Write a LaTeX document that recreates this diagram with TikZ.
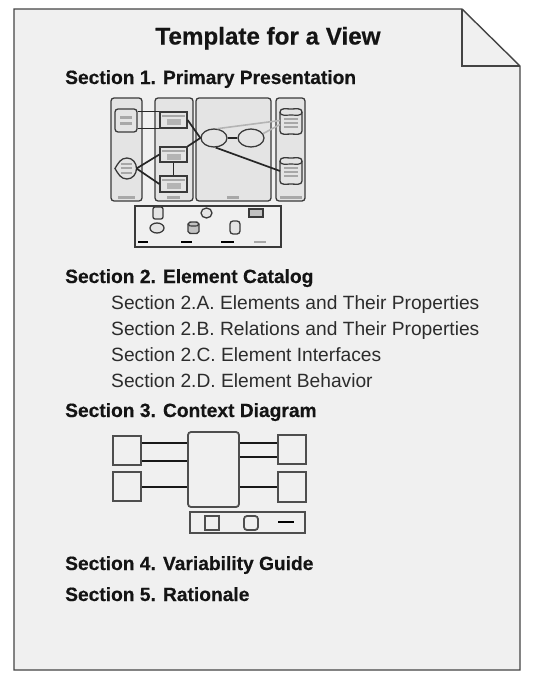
\documentclass[tikz,border=0pt]{standalone}
\usepackage{fontspec}
\setmainfont{Liberation Sans}[BoldFeatures={FakeBold=0.4}]
\usetikzlibrary{shapes.geometric}
\definecolor{pagefill}{HTML}{F0F0F0}
\definecolor{pageline}{HTML}{444444}
\definecolor{colfill}{HTML}{E4E4E4}
\definecolor{dline}{HTML}{3A3A3A}
\definecolor{barg}{HTML}{A8A8A8}
\definecolor{lgray}{HTML}{B4B4B4}
\definecolor{txt}{HTML}{141414}
\tikzset{
  head/.style={anchor=base west, inner sep=0pt, text=txt, font=\fontsize{19.2}{19}\selectfont\bfseries},
  sub/.style={anchor=base west, inner sep=0pt, text=txt!90, font=\fontsize{19.2}{19}\selectfont},
  colbox/.style={draw=dline, fill=colfill, rounded corners=3pt, line width=1.3pt, inner sep=0pt},
  elem/.style={draw=dline, fill=colfill, line width=1.3pt, inner sep=0pt},
  ell/.style={ellipse, draw=dline, fill=colfill, line width=1.3pt, inner sep=0pt},
  conn/.style={draw=black!85, line width=1.7pt},
  gconn/.style={draw=lgray, line width=1.6pt},
  ctx/.style={draw=dline!90, fill=pagefill, line width=1.8pt, inner sep=0pt},
  cconn/.style={draw=black!90, line width=1.8pt},
}
\begin{document}
\begin{tikzpicture}[x=1pt,y=-1pt]
\useasboundingbox (0,0) rectangle (535,680);
\fill[white] (0,0) rectangle (535,680);
% page
\path[fill=pagefill, draw=pageline, line width=1.4pt, line join=miter]
  (14,9) -- (462,9) -- (520,66) -- (520,670) -- (14,670) -- cycle;
\draw[pageline, line width=1.4pt] (462,9) -- (462,66) -- (520,66);

% texts
\node[anchor=base, inner sep=0pt, text=txt, font=\fontsize{24.2}{24}\selectfont\bfseries] (title) at (268,44.5) {Template for a View};
\node[head] (s1) at (65,84) {Section 1. Primary Presentation};
\node[head] (s2) at (65,283) {Section 2. Element Catalog};
\node[sub] (s2a) at (111,309) {Section 2.A. Elements and Their Properties};
\node[sub] (s2b) at (111,335) {Section 2.B. Relations and Their Properties};
\node[sub] (s2c) at (111,361) {Section 2.C. Element Interfaces};
\node[sub] (s2d) at (111,387) {Section 2.D. Element Behavior};
\node[head] (s3) at (65,417) {Section 3. Context Diagram};
\node[head] (s4) at (65,570) {Section 4. Variability Guide};
\node[head] (s5) at (65,601) {Section 5. Rationale};

% ---- primary presentation sketch ----
\node[colbox, minimum width=31pt, minimum height=103pt] (c1) at (126.5,149.5) {};
\node[colbox, minimum width=38pt, minimum height=103pt] (c2) at (174,149.5) {};
\node[colbox, minimum width=75pt, minimum height=103pt] (c3) at (233.5,149.5) {};
\node[colbox, minimum width=29pt, minimum height=103pt] (c4) at (290.5,149.5) {};
\fill[barg] (118,196) rectangle (135,198.5);
\fill[barg] (167,196) rectangle (180,198.5);
\fill[barg] (227,196) rectangle (239,198.5);
\fill[barg] (280,196) rectangle (302,198.5);

% column 1 elements
\node[elem, rounded corners=3pt, minimum width=22pt, minimum height=23pt] (sq1) at (126,120.5) {};
\fill[barg] (120,116) rectangle (132,118.5);
\fill[barg] (120,122) rectangle (132,124.5);
\draw[dline, fill=colfill, line width=1.3pt] (115,168.5) to[out=60,in=180] (127,158)
   to[out=0,in=90] (136.5,168.5) to[out=-90,in=0] (127,179) to[out=180,in=-60] cycle;
\coordinate (sh) at (136.5,168.5);
\fill[barg] (121,162.5) rectangle (132,164.5);
\fill[barg] (121,167) rectangle (132,169);
\fill[barg] (121,171.5) rectangle (132,173.5);

% column 2 elements
\node[elem, minimum width=27pt, minimum height=16pt] (bA) at (173.5,120) {};
\node[elem, minimum width=27pt, minimum height=15pt] (bB) at (173.5,154.5) {};
\node[elem, minimum width=27pt, minimum height=16pt] (bC) at (173.5,184) {};
\foreach \yy in {112,147,176}{
  \fill[barg] (162,\yy+2.5) rectangle (185,\yy+5);
  \fill[lgray] (166.5,\yy+6.5) rectangle (181,\yy+13);
}

% column 3 ellipses
\node[ell, minimum width=26pt, minimum height=18pt] (e1) at (214,138) {};
\node[ell, minimum width=26pt, minimum height=18pt] (e2) at (251,138) {};

% column 4 cylinders
\foreach \nm/\yt/\yb in {cy1/109/134, cy2/158/184}{
  \draw[dline, fill=colfill, line width=1.3pt] (280,\yt+3) -- (280,\yb-3)
     to[out=-90,in=180] (291,\yb) to[out=0,in=-90] (302,\yb-3) -- (302,\yt+3)
     to[out=90,in=0] (291,\yt) to[out=180,in=90] cycle;
  \draw[dline, line width=1.2pt] (280,\yt+3) to[out=-90,in=180] (291,\yt+6) to[out=0,in=-90] (302,\yt+3);
  \fill[barg] (284,\yt+9) rectangle (298,\yt+11);
  \fill[barg] (284,\yt+13) rectangle (298,\yt+15);
  \fill[barg] (284,\yt+17) rectangle (298,\yt+19);
  \coordinate (\nm) at (280,{(\yt+\yb)/2});
}

% connectors
\draw[conn] (sq1.east |- bA.north) -- (bA.north west);
\draw[conn, line width=1.2pt] (sq1.east |- bA.south) -- (bA.south west);
\draw[conn] (sh) -- (bB.west);
\draw[conn] (sh) -- (bC.west);
\draw[conn] (bB.south) -- (bC.north);
\draw[conn] (bA.east) -- (e1.west);
\draw[conn] (bB.north east) -- (e1.west);
\draw[conn] (e1.east) -- (e2.west);
\draw[gconn] (e1.70) -- ([yshift=1pt]cy1);
\draw[gconn] (e2.20) -- ([yshift=-3pt]cy1);
\draw[conn] (e1.-80) -- (cy2);

% legend box
\node[elem, fill=pagefill, minimum width=146pt, minimum height=41pt] (leg) at (208,226.5) {};
\node[elem, rounded corners=2pt, minimum width=10pt, minimum height=12pt] (lq) at (158,213) {};
\node[ell, minimum width=11pt, minimum height=10pt] (lc) at (206.5,213) {};
\node[elem, fill=colfill!85!black, minimum width=14pt, minimum height=8pt] (lr) at (256,213) {};
\node[ell, minimum width=14pt, minimum height=10pt] (le) at (157,228) {};
\draw[dline, fill=colfill!85!black, line width=1.3pt] (188,224) -- (188,231.5)
  to[out=-90,in=180] (193.5,233.5) to[out=0,in=-90] (199,231.5) -- (199,224)
  to[out=90,in=0] (193.5,222) to[out=180,in=90] cycle;
\draw[dline, line width=1.2pt] (188,224) to[out=-90,in=180] (193.5,226) to[out=0,in=-90] (199,224);
\node[elem, rounded corners=3pt, minimum width=10pt, minimum height=13pt] (lt) at (235,227.5) {};
\draw[black, line width=1.8pt] (138,242) -- (148,242);
\draw[black, line width=1.8pt] (181,242) -- (192,242);
\draw[black, line width=1.8pt] (221,242) -- (234,242);
\draw[barg, line width=1.8pt] (254,242) -- (266,242);

% ---- context diagram ----
\node[ctx, minimum width=28pt, minimum height=29pt] (L1) at (127,450.5) {};
\node[ctx, minimum width=28pt, minimum height=29pt] (L2) at (127,486.5) {};
\node[ctx, rounded corners=3pt, minimum width=51pt, minimum height=75pt] (C) at (213.5,469.5) {};
\node[ctx, minimum width=28pt, minimum height=29pt] (R1) at (292,449.5) {};
\node[ctx, minimum width=28pt, minimum height=30pt] (R2) at (292,487) {};
\draw[cconn] ([yshift=7.5pt]L1.east) -- ([yshift=7.5pt]L1.east -| C.west);
\draw[cconn] ([yshift=-10.5pt]L1.east) -- ([yshift=-10.5pt]L1.east -| C.west);
\draw[cconn] ([yshift=-0.5pt]L2.east) -- ([yshift=-0.5pt]L2.east -| C.west);
\draw[cconn] ([yshift=6.5pt]R1.west -| C.east) -- ([yshift=6.5pt]R1.west);
\draw[cconn] ([yshift=-7.5pt]R1.west -| C.east) -- ([yshift=-7.5pt]R1.west);
\draw[cconn] (R2.west -| C.east) -- (R2.west);
\node[ctx, minimum width=115pt, minimum height=21pt] (CL) at (247.5,522.5) {};
\node[ctx, minimum width=14pt, minimum height=14pt] (CLs) at (212,523) {};
\node[ctx, rounded corners=3pt, minimum width=14pt, minimum height=14pt] (CLr) at (251,523) {};
\draw[black, line width=1.8pt] (278,522) -- (294,522);
\end{tikzpicture}
\end{document}
